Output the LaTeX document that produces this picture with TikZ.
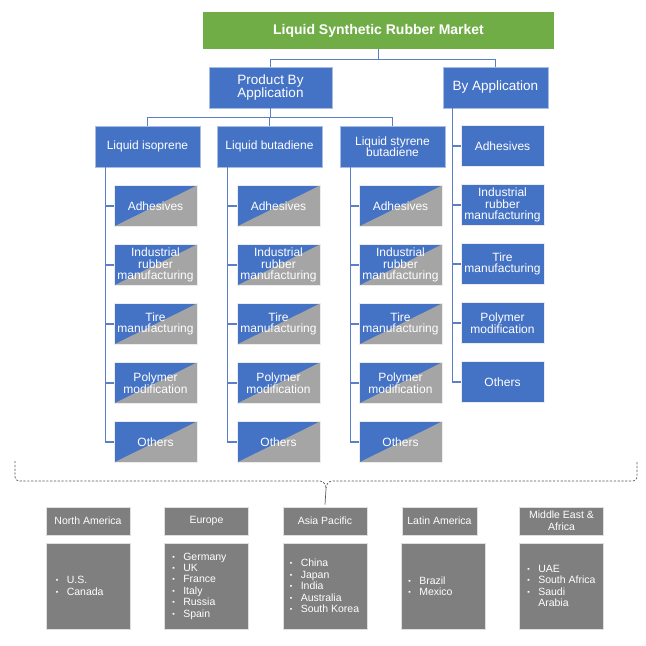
\documentclass[tikz,border=0pt]{standalone}
\usepackage{fontspec}
\setmainfont{Liberation Sans}
\usepackage{xcolor}
\usepackage{tikz}
\usetikzlibrary{
    positioning,
    calc
}
\definecolor{mktgreen}{HTML}{70AD47}
\definecolor{mktblue}{HTML}{4472C4}
\definecolor{mktgray}{HTML}{A5A5A5}
\definecolor{reggray}{HTML}{7F7F7F}
\definecolor{edgeblue}{HTML}{A9BCE3}
\definecolor{linkblue}{HTML}{5A7FC6}
\definecolor{bracegray}{HTML}{595959}
\tikzstyle{mainbox} = [
    rectangle,
    minimum width=351pt,
    minimum height=37pt,
    fill=mktgreen,
    text=white,
    font=\fontsize{14}{15}\selectfont\bfseries
]
\tikzstyle{catbox} = [
    rectangle, draw=edgeblue,
    line width=0.8pt,
    minimum height=41pt,
    inner sep=1pt,
    align=center,
    fill=mktblue,
    text=white,
    font=\fontsize{13.5}{13.5}\selectfont
]
\tikzstyle{prodbox} = [
    catbox,
    minimum width=105pt,
    font=\fontsize{12}{11.5}\selectfont
]
\tikzstyle{subbox} = [
    rectangle, draw=white!85!gray,
    line width=0.8pt,
    minimum width=83pt,
    minimum height=41pt,
    inner sep=0pt,
    align=center,
    text=white,
    fill=mktblue,
    font=\fontsize{12}{11.5}\selectfont,
    path picture={
        \fill[mktgray] (path picture bounding box.south west)
            -- (path picture bounding box.north east)
            -- (path picture bounding box.south east) -- cycle;
    }
]
\tikzstyle{appbox} = [
    subbox,
    path picture={}
]
\tikzstyle{reghead} = [
    rectangle, draw=white!75!gray,
    line width=0.8pt,
    minimum width=84pt,
    minimum height=28pt,
    inner sep=0pt,
    align=center,
    fill=reggray,
    text=white,
    font=\fontsize{10.5}{12}\selectfont
]
\tikzstyle{regbody} = [
    reghead,
    minimum height=86pt
]
\tikzstyle{reglist} = [
    anchor=west,
    inner sep=0pt,
    align=left,
    text=white,
    font=\fontsize{10.5}{11.4}\selectfont
]
\tikzstyle{link} = [
    draw=linkblue,
    line width=1.2pt
]
\tikzstyle{brace} = [
    draw=bracegray,
    line width=0.7pt,
    dash pattern=on 2.2pt off 1.6pt
]
\newcommand{\bul}{\makebox[11pt][l]{\fontsize{7}{7}\selectfont\raisebox{1pt}{▪}}}
\newcommand{\subitems}{Adhesives, {Industrial\\rubber\\manufacturing}, {Tire\\manufacturing}, {Polymer\\modification}, Others}

\begin{document}
\begin{tikzpicture}[x=1pt, y=-1pt]
    \useasboundingbox (0,0) rectangle (646,646);

    \node[mainbox] (market) at (378.5,30.5) {Liquid Synthetic Rubber Market};
    \node[catbox, minimum width=123pt] (product) at (270.5,87.5) {Product By\\Application};
    \node[catbox, minimum width=105pt] (byapp) at (495.5,87.5) {By Application};

    \draw[link] (market.south) -- ++(0,10) -| (product.north);
    \draw[link] (market.south) -- ++(0,10) -| (byapp.north);

    \node[prodbox] (iso) at (147.5,146.5) {Liquid isoprene};
    \node[prodbox] (buta) at (269.5,146.5) {Liquid butadiene};
    \node[prodbox] (sty) at (392.5,146.5) {Liquid styrene\\butadiene};

    \foreach \col in {iso, buta, sty}
        \draw[link] (product.south) -- ++(0,9) -| (\col.north);

    \foreach \col/\cx in {iso/155.5, buta/278.5, sty/400.5} {
        \foreach \item [count=\i] in \subitems {
            \node[subbox] (\col-\i) at (\cx,147+59*\i) {\item};
            \draw[link] (\col.south west) ++(11,0) |- (\col-\i.west);
        }
    }

    \foreach \item [count=\i] in \subitems {
        \node[appbox] (app-\i) at (502.5,87+59*\i) {\item};
        \draw[link] (byapp.south west) ++(10,0) |- (app-\i.west);
    }

    \draw[brace] (15,461) -- (15,477) to[out=-90,in=180] (19,481) -- (320,481)
        to[out=0,in=90] (326,489) coordinate (tip)
        to[out=90,in=180] (332,481) -- (633,481)
        to[out=0,in=-90] (637,477) -- (637,461);

    \node[reghead] (na) at (88,521) {North America};
    \node[reghead] (eu) at (206.5,521) {Europe};
    \node[reghead] (ap) at (325,521) {Asia Pacific};
    \node[reghead, minimum width=75pt] (la) at (439.5,521) {Latin America};
    \node[reghead] (mea) at (561.5,521) {Middle East \&\\Africa};

    \draw[draw=bracegray, line width=0.7pt] (tip) -- ([yshift=2pt]ap.north);

    \node[regbody] (na-list) at (88,586) {};
    \node[regbody] (eu-list) at (206.5,586) {};
    \node[regbody] (ap-list) at (325,586) {};
    \node[regbody] (la-list) at (443.5,586) {};
    \node[regbody] (mea-list) at (561.5,586) {};

    \node[reglist] at ([xshift=10pt]na-list.west) {\bul U.S.\\\bul Canada};
    \node[reglist] at ([xshift=8pt]eu-list.west) {\bul Germany\\\bul UK\\\bul France\\\bul Italy\\\bul Russia\\\bul Spain};
    \node[reglist] at ([xshift=7pt]ap-list.west) {\bul China\\\bul Japan\\\bul India\\\bul Australia\\\bul South Korea};
    \node[reglist] at ([xshift=7pt]la-list.west) {\bul Brazil\\\bul Mexico};
    \node[reglist] at ([xshift=8pt]mea-list.west) {\bul UAE\\\bul South Africa\\\bul Saudi\\\hspace*{11pt}Arabia};
\end{tikzpicture}
\end{document}
